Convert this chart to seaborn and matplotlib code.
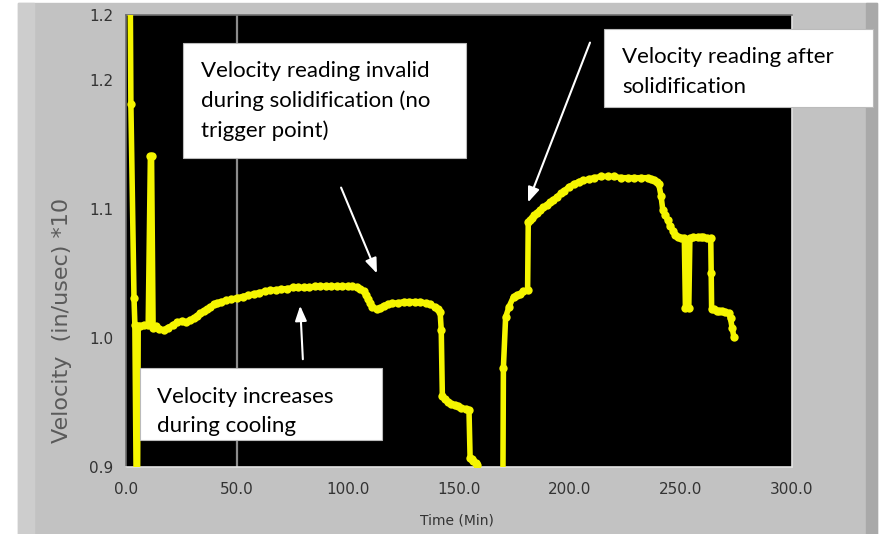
import numpy as np
import pandas as pd
import seaborn as sns
import matplotlib.pyplot as plt
from matplotlib.patches import Rectangle

# --- data (time in min, velocity in in/usec *10) ---
time_a = [1.8, 2.2, 3.6, 4.0, 5.0, 5.5, 6.5, 8.0, 10.0, 11.0, 11.5, 12.2, 13.5, 15.0,
          17.0, 19.0, 21.0, 23.0, 25.0, 27.0, 29.0, 30.5, 32.0, 33.5, 35.0, 36.5, 38.0,
          39.5, 41.0, 43.0, 45.0, 47.5, 50.0, 52.5, 55.0, 57.5, 60.0, 62.5, 65.0, 67.5,
          70.0, 72.5, 75.0, 77.5, 80.0, 82.5, 85.0, 87.5, 90.0, 92.5, 95.0, 97.5, 100.0,
          102.0, 104.0, 105.5, 107.0, 108.0, 109.0, 110.0, 111.0, 113.0, 114.5, 116.0,
          118.0, 120.0, 122.5, 125.0, 127.5, 130.0, 132.5, 135.0, 137.0, 139.0, 140.5,
          141.5, 142.0, 142.5, 143.5, 145.0, 146.5, 148.0, 149.5, 151.0, 153.0, 154.5,
          155.0, 155.7, 156.5, 157.5, 158.3]
vel_a = [1.30, 1.181, 1.031, 1.010, 0.80, 1.009, 1.009, 1.010, 1.010, 1.141, 1.141,
         1.008, 1.009, 1.007, 1.006, 1.008, 1.010, 1.012, 1.013, 1.012, 1.014, 1.015,
         1.017, 1.019, 1.021, 1.022, 1.024, 1.026, 1.027, 1.028, 1.029, 1.030, 1.031,
         1.032, 1.033, 1.034, 1.035, 1.036, 1.037, 1.037, 1.038, 1.038, 1.039, 1.039,
         1.039, 1.039, 1.040, 1.040, 1.040, 1.040, 1.040, 1.040, 1.040, 1.040, 1.039,
         1.038, 1.036, 1.033, 1.030, 1.027, 1.024, 1.022, 1.023, 1.025, 1.026, 1.027,
         1.027, 1.028, 1.028, 1.028, 1.028, 1.027, 1.026, 1.024, 1.022, 1.020, 1.006,
         0.955, 0.953, 0.950, 0.949, 0.948, 0.947, 0.946, 0.945, 0.944, 0.907, 0.906,
         0.905, 0.903, 0.9015]

time_b = [169.3, 170.0, 171.0, 172.5, 174.6, 176.0, 177.5, 179.0, 180.9, 181.2, 182.0,
          183.0, 184.0, 185.0, 186.5, 188.0, 189.5, 191.0, 192.5, 194.0, 196.0, 197.5,
          199.5, 201.6, 204.0, 206.0, 208.5, 211.0, 214.0, 217.0, 220.0, 223.0, 226.0,
          229.0, 232.0, 235.0, 236.5, 238.0, 239.0, 240.0, 241.0, 241.8, 243.0, 244.0,
          245.0, 246.5, 247.5, 248.5, 250.0, 251.5, 252.0, 253.5, 254.0, 255.5, 257.5,
          259.0, 260.0, 261.5, 263.4, 263.6, 263.8, 265.0, 266.0, 267.0, 268.5, 270.0,
          271.5, 272.3, 273.0, 273.8]
vel_b = [0.70, 0.977, 1.016, 1.024, 1.032, 1.033, 1.034, 1.036, 1.037, 1.090, 1.091,
         1.093, 1.095, 1.097, 1.099, 1.101, 1.103, 1.105, 1.107, 1.109, 1.112, 1.114,
         1.117, 1.119, 1.121, 1.122, 1.123, 1.124, 1.125, 1.125, 1.125, 1.124, 1.124,
         1.124, 1.124, 1.124, 1.123, 1.122, 1.121, 1.119, 1.110, 1.099, 1.095, 1.091,
         1.087, 1.083, 1.080, 1.078, 1.077, 1.077, 1.023, 1.023, 1.077, 1.078, 1.078,
         1.078, 1.078, 1.077, 1.077, 1.050, 1.022, 1.022, 1.021, 1.021, 1.021, 1.020,
         1.019, 1.015, 1.008, 1.001]

x_ticks = [0, 50, 100, 150, 200, 250, 300]
x_labels = ["0.0", "50.0", "100.0", "150.0", "200.0", "250.0", "300.0"]
y_ticks = [0.9, 1.0, 1.1, 1.2, 1.25]
y_labels = ["0.9", "1.0", "1.1", "1.2", "1.2"]

df = pd.concat([
    pd.DataFrame({"Time": time_a, "Velocity": vel_a, "seg": "a"}),
    pd.DataFrame({"Time": time_b, "Velocity": vel_b, "seg": "b"}),
])

sns.set_style("white")
W, H = 881, 534
fig = plt.figure(figsize=(W / 100, H / 100), dpi=100, facecolor="white")


def add_rect(x0, y0, x1, y1, **kw):
    # rectangle given in pixels, top-left origin
    fig.add_artist(Rectangle((x0 / W, 1 - y1 / H), (x1 - x0) / W, (y1 - y0) / H,
                             transform=fig.transFigure, **kw))


# LabVIEW-like panel background
add_rect(18, 3, 877, 534, color="#c2c2c2", zorder=0)
add_rect(18, 3, 34, 534, color="#cdcdcd", zorder=0)
add_rect(866, 3, 877, 534, color="#a9a9a9", zorder=0)

ax = fig.add_axes([126 / W, 1 - 467 / H, (792 - 126) / W, (467 - 15) / H])
ax.set_facecolor("black")

ax.axvline(50, color="#8c8c8c", lw=1.6, zorder=1)

sns.lineplot(data=df, x="Time", y="Velocity", units="seg", estimator=None, sort=False,
             color="#f5f500", lw=4.0, marker="o", markersize=6, markeredgewidth=0,
             ax=ax, zorder=3)

ax.set_xlim(0, 300)
ax.set_ylim(0.9, 1.25)
ax.set_xticks(x_ticks)
ax.set_xticklabels(x_labels)
ax.set_yticks(y_ticks)
ax.set_yticklabels(y_labels)
ax.tick_params(axis="both", direction="out", length=5, width=1.2, color="#333333",
               labelcolor="#333333", labelsize=11)
ax.tick_params(axis="x", pad=6)
ax.tick_params(axis="y", pad=4)
for side in ["left", "top"]:
    ax.spines[side].set_color("#6e6e6e")
for side in ["right", "bottom"]:
    ax.spines[side].set_color("#e2e2e2")
for s in ax.spines.values():
    s.set_linewidth(1.2)

ax.set_xlabel("")
ax.set_ylabel("")
fig.text(457 / W, 1 - 520 / H, "Time (Min)", ha="center", va="center",
         fontsize=10, color="#333333")
fig.text(62 / W, 1 - 320 / H, "Velocity  (in/usec) *10", rotation=90,
         ha="center", va="center", fontsize=16, color="#5a5a5a")

# annotation boxes: box pixels, text x, baselines, lines
boxes = [
    ((183, 43, 466, 158), 201, [77, 107, 137],
     ["Velocity reading invalid", "during solidification (no", "trigger point)"]),
    ((604, 29, 873, 107), 622, [63, 93], ["Velocity reading after", "solidification"]),
    ((140, 368, 382, 440), 157, [403, 432], ["Velocity increases", "during cooling"]),
]
for (x0, y0, x1, y1), tx, bases, lines in boxes:
    add_rect(x0, y0, x1, y1, facecolor="white", edgecolor="#bbbbbb", lw=0.8, zorder=5)
    for by, line in zip(bases, lines):
        fig.text(tx / W, 1 - by / H, line, ha="left", va="baseline", fontsize=16,
                 family="Lato", color="black", zorder=6)

arrows = [((340, 185), (378, 276)), ((303, 362), (300, 303)), ((591, 40), (527, 205))]
for (x0, y0), (x1, y1) in arrows:
    ax.annotate("", xy=(x1, H - y1), xytext=(x0, H - y0),
                xycoords="figure pixels", textcoords="figure pixels",
                arrowprops=dict(arrowstyle="-|>,head_length=0.9,head_width=0.35",
                                color="white", lw=1.5), zorder=7)

fig.savefig("out.png", dpi=100, facecolor=fig.get_facecolor())
